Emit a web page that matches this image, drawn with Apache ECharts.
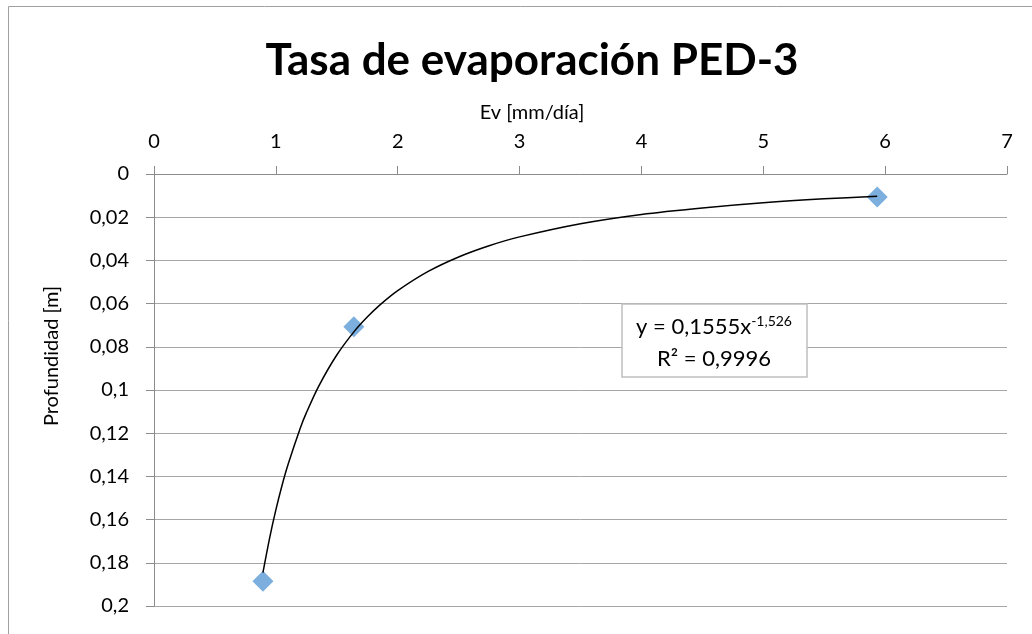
<!DOCTYPE html>
<html>
<head>
<meta charset="utf-8">
<script src="https://cdn.jsdelivr.net/npm/echarts@6/dist/echarts.min.js"></script>
<style>
  html, body { margin: 0; padding: 0; background: #fff; }
  #main { width: 1032px; height: 634px; }
</style>
</head>
<body>
<div id="main"></div>
<script>
// datos medidos: Ev [mm/día] vs profundidad [m]
var evValues = [0.894, 1.64, 5.935];
var depthValues = [0.1885, 0.0707, 0.0106];

// línea de tendencia potencial
var trendX = [0.894, 0.95, 1, 1.05, 1.1, 1.2, 1.25, 1.35, 1.5, 1.65, 1.75, 1.85, 2, 2.25, 2.5, 2.75, 3, 3.5, 4, 4.5, 5, 5.5, 5.935];
var trendY = [0.1845, 0.1682, 0.1555, 0.1443, 0.1345, 0.1177, 0.1106, 0.0984, 0.0838, 0.0724, 0.0662, 0.0608, 0.0540, 0.0451, 0.0384, 0.0332, 0.0291, 0.0230, 0.0187, 0.0157, 0.0133, 0.0115, 0.0103];

var titleText = 'Tasa de evaporación PED-3';
var xName = 'Ev [mm/día]';
var yName = 'Profundidad [m]';
var eqLine1 = 'y = 0,1555x';
var eqExp = '-1,526';
var eqLine2 = 'R² = 0,9996';

var myChart = echarts.init(document.getElementById('main'));

var font = 'Lato, "Open Sans", sans-serif';

function pairs(xs, ys) {
    var out = [];
    for (var i = 0; i < xs.length; i++) out.push([xs[i], ys[i]]);
    return out;
}

var option = {
    backgroundColor: '#fff',
    animation: false,
    textStyle: { fontFamily: font },
    title: [
        {
            text: titleText,
            left: 527, top: 34,
            textAlign: 'center',
            textStyle: { fontFamily: font, fontSize: 44, fontWeight: 'bold', color: '#000' }
        },
        {
            text: xName,
            left: 527, top: 98,
            textAlign: 'center',
            textStyle: { fontFamily: font, fontSize: 20, fontWeight: 'normal', color: '#000' }
        }
    ],
    grid: { left: 154, right: 25, top: 174, bottom: 28 },
    xAxis: {
        type: 'value',
        position: 'top',
        min: 0, max: 7, interval: 1,
        axisLine: { show: true, onZero: false, lineStyle: { color: '#8c8c8c', width: 1 } },
        axisTick: { show: true, length: 8, lineStyle: { color: '#8c8c8c' } },
        axisLabel: { margin: 22, fontSize: 20, color: '#000', fontFamily: font },
        splitLine: { show: false }
    },
    yAxis: {
        type: 'value',
        inverse: true,
        min: 0, max: 0.2, interval: 0.02,
        axisLine: { show: true, onZero: false, lineStyle: { color: '#8c8c8c', width: 1 } },
        axisTick: { show: true, length: 8, lineStyle: { color: '#8c8c8c' } },
        axisLabel: {
            margin: 25, fontSize: 20, color: '#000', fontFamily: font,
            formatter: function (v) { return String(+v.toFixed(2)).replace('.', ','); }
        },
        splitLine: { show: true, lineStyle: { color: '#a6a6a6', width: 1 } }
    },
    series: [
        {
            name: 'datos',
            type: 'scatter',
            symbol: 'diamond',
            symbolSize: [21, 21],
            itemStyle: { color: '#5b9bd5' },
            data: pairs(evValues, depthValues),
            z: 2
        },
        {
            name: 'tendencia',
            type: 'line',
            smooth: 0.3,
            showSymbol: false,
            lineStyle: { color: '#000', width: 1.5 },
            data: pairs(trendX, trendY),
            z: 3
        }
    ],
    graphic: [
        {
            type: 'rect',
            shape: { x: 8.5, y: 6.5, width: 1100, height: 800 },
            style: { fill: 'none', stroke: '#a0a0a0', lineWidth: 1 },
            silent: true
        },
        {
            type: 'text',
            x: 52, y: 356,
            rotation: Math.PI / 2,
            style: {
                text: yName,
                font: '20px ' + font,
                fill: '#000',
                align: 'center',
                verticalAlign: 'middle'
            }
        },
        {
            type: 'rect',
            shape: { x: 622, y: 304, width: 185, height: 73 },
            style: { fill: '#fff', stroke: '#bfbfbf', lineWidth: 1.5 },
            z: 10
        },
        {
            type: 'text',
            x: 714, y: 327,
            z: 11,
            style: {
                text: '{a|' + eqLine1 + '}{s|' + eqExp + '}',
                align: 'center',
                verticalAlign: 'middle',
                rich: {
                    a: { fontFamily: font, fontSize: 22, fill: '#000', lineHeight: 26 },
                    s: { fontFamily: font, fontSize: 14, fill: '#000', verticalAlign: 'top', padding: [0, 0, 11, 0] }
                }
            }
        },
        {
            type: 'text',
            x: 714, y: 359,
            z: 11,
            style: {
                text: eqLine2,
                font: '22px ' + font,
                fill: '#000',
                align: 'center',
                verticalAlign: 'middle'
            }
        }
    ]
};

myChart.setOption(option);
</script>
</body>
</html>
